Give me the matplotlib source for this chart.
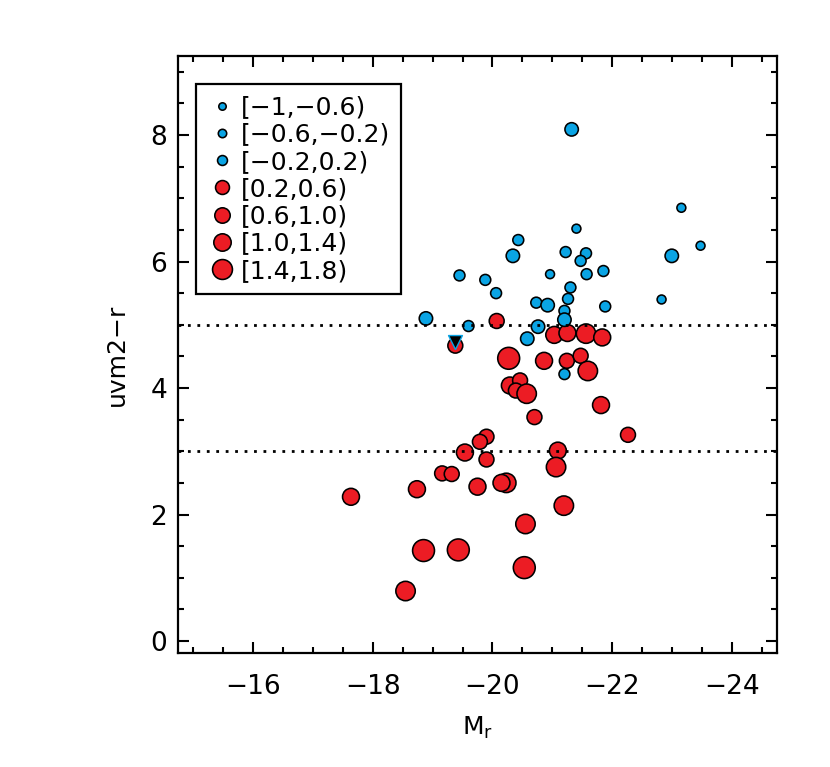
import matplotlib
matplotlib.use("Agg")
import matplotlib.pyplot as plt
from matplotlib.lines import Line2D
from matplotlib.ticker import MultipleLocator

plt.rcParams['font.family'] = ['DejaVu Sans']
plt.rcParams['mathtext.default'] = 'regular'

# ---------------- data ----------------
bins = ['[−1,−0.6)', '[−0.6,−0.2)', '[−0.2,0.2)', '[0.2,0.6)', '[0.6,1.0)', '[1.0,1.4)', '[1.4,1.8)']
bin_colors = ['#0AA4E4', '#0AA4E4', '#0AA4E4', '#EC1C24', '#EC1C24', '#EC1C24', '#EC1C24']

# blue points (class index 0..2)
blue_x = [-21.32, -21.40, -20.43, -20.34, -21.22, -21.56, -21.47, -22.99, -23.15, -23.47,
          -22.82, -19.45, -19.88, -20.06, -20.96, -21.57, -21.85, -21.30, -21.26, -20.73,
          -20.92, -21.88, -21.20, -21.20, -18.89, -19.60, -20.76, -20.58, -21.20]
blue_y = [8.09, 6.52, 6.34, 6.09, 6.15, 6.13, 6.01, 6.09, 6.85, 6.25,
          5.40, 5.78, 5.71, 5.50, 5.80, 5.80, 5.85, 5.59, 5.41, 5.35,
          5.31, 5.29, 5.22, 5.08, 5.10, 4.98, 4.97, 4.78, 4.22]
blue_cls = [2, 0, 1, 2, 1, 1, 1, 2, 0, 0,
            0, 1, 1, 1, 0, 1, 1, 1, 1, 1,
            2, 1, 1, 2, 2, 1, 2, 2, 1]

# red points (class index 3..6)
red_x = [-20.07, -19.38, -21.03, -21.25, -21.56, -21.83, -20.27, -20.86, -21.24, -21.47,
         -21.59, -20.29, -20.46, -20.39, -20.57, -21.81, -20.70, -22.26, -19.90, -19.79,
         -19.54, -21.09, -19.90, -21.06, -19.16, -19.32, -18.74, -19.75, -20.23, -20.15,
         -17.64, -21.19, -20.55, -18.85, -19.43, -20.53, -18.55]
red_y = [5.06, 4.67, 4.84, 4.87, 4.86, 4.80, 4.47, 4.43, 4.43, 4.51,
         4.27, 4.04, 4.12, 3.96, 3.91, 3.73, 3.54, 3.26, 3.23, 3.15,
         2.98, 3.01, 2.87, 2.75, 2.65, 2.64, 2.40, 2.44, 2.50, 2.50,
         2.28, 2.14, 1.85, 1.43, 1.44, 1.16, 0.79]
red_cls = [3, 3, 4, 4, 5, 4, 6, 4, 3, 3,
           5, 4, 3, 3, 5, 4, 3, 3, 3, 3,
           4, 4, 3, 5, 3, 3, 4, 4, 5, 4,
           4, 5, 5, 6, 6, 6, 5]

# upper-limit marker (downward triangle)
lim_x = [-19.38]
lim_y = [4.72]

hlines_y = [5.0, 3.0]

# ---------------- style ----------------
plot_diam_px = [10.5, 12.5, 15.0, 16.5, 18.5, 21.0, 23.5]
legend_diam_px = [9.0, 10.0, 11.5, 15.5, 17.0, 19.0, 21.5]
edge_px = 1.6

def ms_pt(d):
    return (d - edge_px) * 0.72

fig = plt.figure(figsize=(8.3, 7.67), dpi=100)
W, H = 830, 767
left, right, top, bottom = 178.3, 776.7, 56.0, 653.0
ax = fig.add_axes([left / W, 1 - bottom / H, (right - left) / W, (bottom - top) / H])

ax.set_xlim(-14.76, -24.74)
ax.set_ylim(-0.19, 9.25)

for xs, ys, cl in ((red_x, red_y, red_cls), (blue_x, blue_y, blue_cls)):
    ax.scatter(xs, ys,
               s=[ms_pt(plot_diam_px[c]) ** 2 for c in cl],
               c=[bin_colors[c] for c in cl],
               edgecolors='black', linewidths=edge_px * 0.72, zorder=3)

ax.scatter(lim_x, lim_y, marker='v', s=ms_pt(15.5) ** 2, c='black',
           edgecolors='#0AA4E4', linewidths=1.0, zorder=4)

for yv in hlines_y:
    ax.axhline(yv, color='black', lw=2.0, ls=(0, (1.0, 2.4)), zorder=5)

ax.xaxis.set_major_locator(MultipleLocator(2))
ax.xaxis.set_minor_locator(MultipleLocator(0.5))
ax.yaxis.set_major_locator(MultipleLocator(2))
ax.yaxis.set_minor_locator(MultipleLocator(0.5))
ax.tick_params(which='both', direction='in', top=True, right=True, width=1.5, labelsize=19)
ax.tick_params(which='major', length=8)
ax.tick_params(which='minor', length=4)
ax.tick_params(axis='x', which='major', pad=15)
ax.tick_params(axis='y', which='major', pad=8)
for sp in ax.spines.values():
    sp.set_linewidth(1.6)

ax.set_xlabel('M$_r$', fontsize=18, labelpad=11)
ax.set_ylabel('uvm2−r', fontsize=18, labelpad=15.5)

handles = [Line2D([], [], marker='o', ls='none', mfc=bin_colors[i], mec='black',
                  mew=edge_px * 0.72, ms=ms_pt(legend_diam_px[i])) for i in range(len(bins))]
leg = ax.legend(handles, bins, loc='upper left',
                bbox_to_anchor=((196 - left) / (right - left), (bottom - 84) / (bottom - top)),
                borderaxespad=0, fontsize=18, frameon=True, fancybox=False,
                edgecolor='black', framealpha=1, handlelength=1.18, handletextpad=0.15,
                borderpad=0.45, labelspacing=0.13)
leg.get_frame().set_linewidth(1.6)
leg.set_zorder(6)

fig.savefig('out.png', dpi=100)
